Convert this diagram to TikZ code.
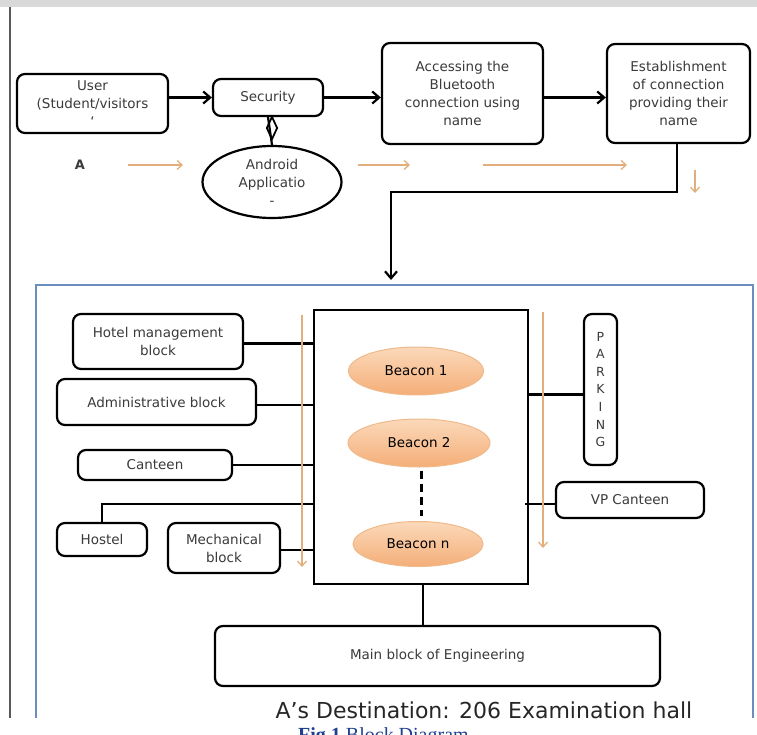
\documentclass[tikz,border=0pt]{standalone}
\usepackage{fontspec}
\setmainfont{DejaVu Sans}
\newfontfamily\piefont{Liberation Serif}
\usetikzlibrary{arrows.meta,shapes.geometric}

\definecolor{azulmarco}{HTML}{6C8EBF}
\definecolor{naranja}{HTML}{E2AE7C}
\definecolor{balizaclaro}{HTML}{FBD9BA}
\definecolor{balizaoscuro}{HTML}{F4AE78}
\definecolor{balizaborde}{HTML}{F0B98A}
\definecolor{textogris}{HTML}{3A3A3A}
\definecolor{azulpie}{HTML}{1F3F8F}

\tikzset{
  estilo bloques/.style={
      x=1pt, y=-1pt,
      caja/.style={draw, line width=2.2pt, rounded corners=8pt, align=center,
          inner sep=0pt, text=textogris, font={\fontsize{13.5}{18}\selectfont}},
      baliza/.style={ellipse, draw=balizaborde, line width=1pt, inner sep=0pt,
          top color=balizaclaro, bottom color=balizaoscuro,
          font={\fontsize{13.5}{16}\selectfont}},
      flecha/.style={-{Straight Barb[length=7pt,width=12pt]}, line width=2.2pt},
      guia/.style={-{Straight Barb[length=5pt,width=9pt]}, naranja, line width=1.3pt},
      linea/.style={line width=2.2pt},
    },
}

\begin{document}
\begin{tikzpicture}[estilo bloques]
  \useasboundingbox (0,0) rectangle (757,735);
  \clip (0,0) rectangle (757,735);
  \fill[gray!30] (0,0) rectangle (757,7);
  \draw[gray!70!black, line width=1.4pt] (10,7) -- (10,718);

  % parte superior
  \node[caja, minimum width=151, minimum height=59] (user) at (92.5,103.5) {User\\(Student/visitors\\`};
  \node[caja, minimum width=110, minimum height=37] (sec) at (268,97.5) {Security};
  \node[caja, minimum width=161, minimum height=101] (acc) at (462.5,93.5) {Accessing the\\Bluetooth\\connection using\\name};
  \node[caja, minimum width=143, minimum height=99] (est) at (678.5,93.5) {Establishment\\of connection\\providing their\\name};
  \node[caja, ellipse, rounded corners=0pt, minimum width=139, minimum height=72] (app) at (272,182) {Android\\Applicatio\\-};
  \node[diamond, draw, line width=1.8pt, minimum width=11, minimum height=23, inner sep=0pt, aspect=0.45] (rombo) at (272,128) {};
  \node[font={\fontsize{13}{15}\selectfont\bfseries}, text=textogris] (a) at (80,165) {A};

  \draw[flecha] (user.east |- sec.west) -- (sec.west);
  \draw[flecha] (sec.east) -- (acc.west |- sec.east);
  \draw[flecha] ([yshift=-4pt]acc.east) -- ([yshift=-4pt]est.west);
  \draw[linea] (sec.south) -- (app.north);

  \draw[guia] (128,165) -- (183,165);
  \draw[guia] (358,165) -- (410,165);
  \draw[guia] (483,165) -- (627,165);
  \draw[guia] (695,170) -- (695,193);

  \coordinate (codo) at (391,192);
  \coordinate (entrada) at (391,280);
  \draw[flecha] ([xshift=-1.5pt]est.south) |- (codo) -- (entrada);

  % campus
  \draw[azulmarco, line width=2pt] (36,718) -- (36,285) -- (753,285) -- (753,718);

  \node[draw, line width=2.2pt, minimum width=214, minimum height=274, inner sep=0pt] (centro) at (421,447) {};
  \node[baliza, minimum width=135, minimum height=48] (b1) at (416,371) {Beacon 1};
  \node[baliza, minimum width=142, minimum height=48] (b2) at (419,443) {Beacon 2};
  \node[baliza, minimum width=130, minimum height=45] (bn) at (418,544) {Beacon n};
  \draw[line width=3pt, dash pattern=on 8pt off 5pt, shorten <=3pt, shorten >=5pt] ([xshift=2pt]b2.south) -- ([xshift=2pt]b2.south |- bn.north);

  \node[caja, minimum width=170, minimum height=55] (hotel) at (158,341.5) {Hotel management\\block};
  \node[caja, minimum width=199, minimum height=46] (admin) at (156.5,402) {Administrative block};
  \node[caja, minimum width=154, minimum height=30] (canteen) at (155,465) {Canteen};
  \node[caja, minimum width=90, minimum height=33] (hostel) at (102,539.5) {Hostel};
  \node[caja, minimum width=112, minimum height=50] (mech) at (224,548) {Mechanical\\block};
  \node[caja, minimum width=33, minimum height=151, font={\fontsize{12.5}{17.6}\selectfont}] (parking) at (600.5,389.5) {P\\A\\R\\K\\I\\N\\G};
  \node[caja, minimum width=148, minimum height=36] (vp) at (630,500) {VP Canteen};
  \node[caja, minimum width=445, minimum height=60] (mainblk) at (437.5,656) {Main block of Engineering};

  \draw[linea] ([yshift=-2pt]hotel.east) -- ([yshift=-2pt]hotel.east -| centro.west);
  \draw[linea] ([yshift=-3pt]admin.east) -- ([yshift=-3pt]admin.east -| centro.west);
  \draw[linea] (canteen.east) -- (canteen.east -| centro.west);
  \path (centro.west) ++(0,57) coordinate (ramal);
  \draw[linea] (hostel.north) |- (ramal);
  \draw[linea] ([yshift=-2pt]mech.east) -- ([yshift=-2pt]mech.east -| centro.west);
  \draw[linea] ([yshift=-5pt]parking.west) -- ([yshift=-5pt]parking.west -| centro.east);
  \draw[linea] ([yshift=-4pt]vp.west) -- ([xshift=-4pt,yshift=-4pt]vp.west -| centro.east);
  \draw[linea] ([xshift=2pt]centro.south) -- ([xshift=2pt]centro.south |- mainblk.north);

  \draw[guia] (302,315) -- (302,567);
  \draw[guia] (543,312) -- (543,548);

  \node[font={\fontsize{22}{26}\selectfont}, text=black!85] (destino) at (484,710) {A’s Destination: 206 Examination hall};
  \node[anchor=north west, inner sep=0pt, font={\piefont\fontsize{20}{24}\selectfont}, text=azulpie] (pie) at (298,727) {\textbf{Fig 1} Block Diagram};
\end{tikzpicture}
\end{document}
